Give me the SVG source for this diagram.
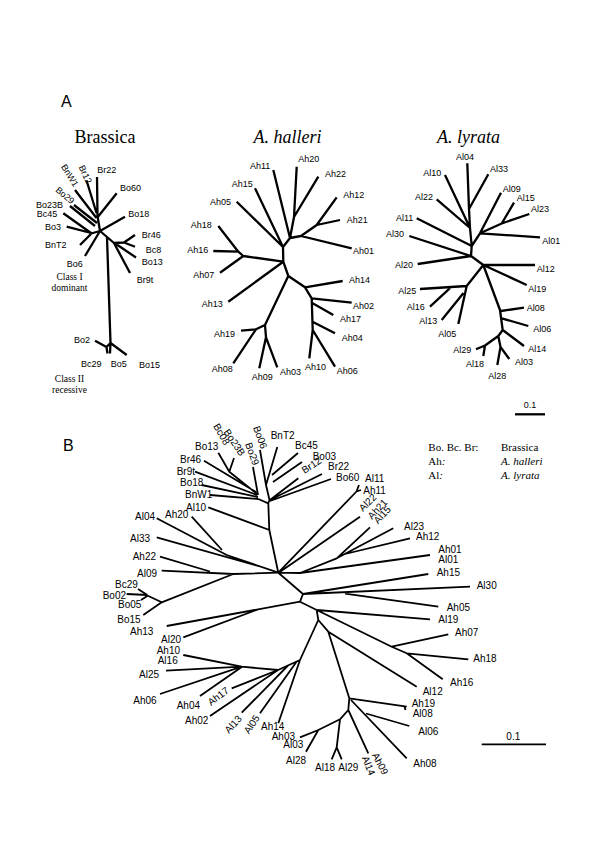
<svg xmlns="http://www.w3.org/2000/svg" width="600" height="849" viewBox="0 0 600 849">
<style>
.ta{font-family:"Liberation Sans",Arial,sans-serif;font-size:9px;fill:#000}
.tb{font-family:"Liberation Sans",Arial,sans-serif;font-size:10px;fill:#000}
.pl{font-family:"Liberation Sans",Arial,sans-serif;font-size:16px;fill:#000}
.ti{font-family:"Liberation Serif","Times New Roman",serif;font-size:18px;fill:#000}
.it{font-style:italic}
.cl{font-family:"Liberation Serif","Times New Roman",serif;font-size:9.5px;fill:#000;text-anchor:middle}
.lg{font-family:"Liberation Serif","Times New Roman",serif;font-size:11px;fill:#000}
.ea{fill:none;stroke:#000;stroke-width:2.3;stroke-linejoin:round}
.eb{fill:none;stroke:#000;stroke-width:1.8;stroke-linejoin:round}
</style>
<rect width="600" height="849" fill="#fff"/>
<text class="pl" x="61" y="107">A</text>
<text class="pl" x="63" y="450.5">B</text>
<text class="ti" x="105" y="143" text-anchor="middle">Brassica</text>
<text class="ti it" x="287.5" y="143" text-anchor="middle">A. halleri</text>
<text class="ti it" x="468.5" y="143" text-anchor="middle">A. lyrata</text>
<g id="class-labels">
<text class="cl" x="69.5" y="279.5">Class I</text>
<text class="cl" x="69.5" y="290.5">dominant</text>
<text class="cl" x="69.5" y="381.5">Class II</text>
<text class="cl" x="69.5" y="392.5">recessive</text>
</g>
<g id="connectors">
<path class="ea" d="M97,177 L97.5,216 L100,231 M86.7,181 L96.5,213 M75,190 L96.5,218 M116.7,193.3 L97.8,217 M74,205 L97,223 M70,206 L95,226 M63.3,213.3 L91,233 M66.7,226.7 L91,233 M80,245 L91,234 M91,233.5 L100,231 M85,256 L97,236 L100,231 M125,216.7 L100,231 M100,231 L107,237 L110.5,343 M107,237 L114,243 L130,273 M114,243 L124,242.5 L135,235 M124,242.5 L135,246.7 M116,244 L136,257.5 M110.5,343 L126.7,355 M110.5,343 L110,353.5 M110.5,343 L106.5,347 L95,340.7 M106.5,347 L107.5,353.5"/>
<path class="ea" d="M296.7,166.7 L294,217 L290,238 M318.3,176.7 L294,217 M273.3,170 L290,238 M336.7,197.3 L316.7,225 L301,236 L290,238 M340,220 L316.7,225 M351.7,248.3 L301,236 M290,238 L283,247 L283.3,261.7 M255,188.3 L283,247 M236.7,201.7 L283,247 M218.3,226 L238.3,251.7 L243.3,256 L283.3,261.7 M213.3,251 L238.3,251.7 M220,272.7 L243.3,256 M228.3,301.7 L283.3,261.7 M283.3,261.7 L288.3,276 L305,287.3 L342.7,281 M305,287.3 L311.7,298.3 L351.7,302.7 M312.2,303 L333.3,315 M311.7,298.3 L312.7,330 L309.3,358.3 M312.5,321.7 L335,333.3 M312.7,330 L335,366.7 M288.3,276 L265,325 L256,329.3 L241,330.7 M256,329.3 L233.3,363.3 M265,325 L266,337.3 L259.3,368.3 M266,337.3 L277.3,367.3"/>
<path class="ea" d="M467.3,163.3 L469,209 L470,228 L471.7,246 M488.3,174.3 L469,209 M445,175 L470,228 M436.7,199.3 L470,228 M501,192.7 L480,233.3 L471.7,246 M514,202.7 L501.7,223.5 L480,233.3 M529.3,214 L501.7,223.5 M540,237.3 L480,233.3 M416.7,218.3 L471.7,246 L471,256 L483.3,265 L535,265 M409.3,236 L471,256 M417.7,264 L471,256 M483.3,265 L526.7,285 M483.3,265 L466.7,286 L420,289 M430,306.7 L450,288.2 M458.3,324 L466.7,286 M441.7,320 L463.5,293 M483.3,265 L500,310 L502.7,330 L524,346 M501,311 L524,307.7 M501.8,318.3 L528.3,326 M502.7,330 L498.3,336 L485,345.5 L476,349.3 M485,345.5 L483.3,356 M498.3,336 L500.5,347 L509.3,359 M500.5,347 L497.3,365"/>
<path class="ea" d="M515,414.3 L545,414.3"/>
<path class="eb" d="M210,495 L258.3,499 M201.7,485 L258,497 M195,471.7 L257,495 M204,460.7 L256,492 M218.3,452.7 L229.3,471.7 L257,494 M234,458 L229.3,471.7 M253,467 L258,495 M258.3,499 L268.3,503.3 M260,450 L266,485 L269.5,500 M277.3,447 L266,485 M298,453 L272,475 M302,462 L273,482 M298.3,478.3 L270,500 M322,474 L270,500 M331,479 L270,501 M269.5,500 L268.3,503.3 L269.3,530 L278.3,572.7 M208.3,507.3 L269.3,530 M156.7,518.3 L226.7,555 L278.3,572.7 M191.7,516.7 L222,550 M156.7,537.3 L260,566.5 M160,556.7 L210,571.5 M161.7,570.7 L233.3,574 L278.3,572.7 M161.7,602.3 L233.3,574 M138,589 L147.3,595 M126.7,594 L147.3,595 M141,600 L147.3,596 M147.3,595.5 L161.7,602.3 M143.3,615 L161.7,602.3"/>
<path class="eb" d="M278.3,572.7 L356.5,491.5 L359,485 M356.5,491.5 L361,490 M360,516.7 L279,572.5 M370,527.3 L336.7,558.3 M393.3,528.3 L336.7,558.3 L300,573 L278.3,572.7 M410,538.3 L345,554 M430,555 L300,573 M278.3,572.7 L303,594 L300,601.7 L316.7,610 M428.3,574 L303,594 M470,586.7 L303,594 M438.3,606.7 L345,593.6 M166.7,626 L300,601.7 M183.3,637.3 L258,609.4"/>
<path class="eb" d="M316.7,610 L430,619.3 M316.7,610 L391.7,646.7 L448.3,634.3 M391.7,646.7 L406.7,653.3 L468.3,659.3 M406.7,653.3 L442.7,679.3 M316.7,610 L318.3,620 L300,660 M318.3,620 L328.3,631.7 L416.7,686.7 M328.3,631.7 L349.3,698.3 L406.7,706.7 M404.5,706.4 L405.5,710 M351,700 L406.7,758.3 M366,713.5 L409.3,726 M349.3,698.3 L348.3,710 L368.3,753.3 M348.3,710 L340,719.3 L336.7,747.3 L331.7,759.3 M336.7,747.3 L341.7,759.3 M340,719.3 L318.3,730 L300,737.3 M318.3,730 L306,751.7"/>
<path class="eb" d="M300,660 L278,670 L241.7,666.7 M296.7,661.5 L260,713.3 M300,660 L278.3,723.3 M288,665.5 L241.7,712.7 M278,670 L231.7,688.3 M278,670 L210,716 M183.3,655 L241.7,666.7 M166,670.7 L241.7,666.7 M160,694 L241.7,666.7 M200,696 L241.7,667"/>
<path class="eb" d="M481.7,744.3 L546,744.3"/>
</g>
<g id="brassica-A">
<g id="A-Br22"><text class="ta" x="97.3" y="173.3">Br22</text></g>
<g id="A-Br12"><text class="ta" transform="translate(78.5,167) rotate(65)">Br12</text></g>
<g id="A-BnW1"><text class="ta" transform="translate(60.7,166.7) rotate(58)">BnW1</text></g>
<g id="A-Bo29"><text class="ta" transform="translate(55,191) rotate(40)">Bo29</text></g>
<g id="A-Bo60"><text class="ta" x="120" y="190.5">Bo60</text></g>
<g id="A-Bo23B"><text class="ta" x="36" y="207.5">Bo23B</text></g>
<g id="A-Bc45"><text class="ta" x="36.7" y="216.5">Bc45</text></g>
<g id="A-Bo18"><text class="ta" x="128.3" y="216.5">Bo18</text></g>
<g id="A-Bo3"><text class="ta" x="45" y="230">Bo3</text></g>
<g id="A-Br46"><text class="ta" x="141.7" y="237.5">Br46</text></g>
<g id="A-BnT2"><text class="ta" x="45" y="247.5">BnT2</text></g>
<g id="A-Bc8"><text class="ta" x="145.7" y="252.5">Bc8</text></g>
<g id="A-Bo6"><text class="ta" x="66.7" y="266.5">Bo6</text></g>
<g id="A-Bo13"><text class="ta" x="141.7" y="265">Bo13</text></g>
<g id="A-Br9t"><text class="ta" x="136.7" y="283">Br9t</text></g>
<g id="A-Bo2"><text class="ta" x="74" y="342.5">Bo2</text></g>
<g id="A-Bc29"><text class="ta" x="81" y="366.5">Bc29</text></g>
<g id="A-Bo5"><text class="ta" x="110.7" y="366.5">Bo5</text></g>
<g id="A-Bo15"><text class="ta" x="139" y="368">Bo15</text></g>
</g>
<g id="halleri-A">
<g id="A-Ah20"><text class="ta" x="298.3" y="161.5">Ah20</text></g>
<g id="A-Ah11"><text class="ta" x="250" y="168.5">Ah11</text></g>
<g id="A-Ah22"><text class="ta" x="325" y="176.5">Ah22</text></g>
<g id="A-Ah15"><text class="ta" x="231.7" y="186.5">Ah15</text></g>
<g id="A-Ah12"><text class="ta" x="343.3" y="198">Ah12</text></g>
<g id="A-Ah05"><text class="ta" x="210" y="205">Ah05</text></g>
<g id="A-Ah21"><text class="ta" x="346.7" y="222.5">Ah21</text></g>
<g id="A-Ah18"><text class="ta" x="190.7" y="228">Ah18</text></g>
<g id="A-Ah16"><text class="ta" x="187.3" y="252.5">Ah16</text></g>
<g id="A-Ah01"><text class="ta" x="353" y="253.5">Ah01</text></g>
<g id="A-Ah07"><text class="ta" x="193.3" y="278.3">Ah07</text></g>
<g id="A-Ah14"><text class="ta" x="349" y="283.3">Ah14</text></g>
<g id="A-Ah13"><text class="ta" x="201.7" y="306.5">Ah13</text></g>
<g id="A-Ah02"><text class="ta" x="353" y="308.5">Ah02</text></g>
<g id="A-Ah17"><text class="ta" x="340" y="321.5">Ah17</text></g>
<g id="A-Ah19"><text class="ta" x="214" y="336.5">Ah19</text></g>
<g id="A-Ah04"><text class="ta" x="341.7" y="341">Ah04</text></g>
<g id="A-Ah08"><text class="ta" x="211.7" y="372">Ah08</text></g>
<g id="A-Ah10"><text class="ta" x="305" y="369.5">Ah10</text></g>
<g id="A-Ah06"><text class="ta" x="336.7" y="373.5">Ah06</text></g>
<g id="A-Ah03"><text class="ta" x="280" y="375">Ah03</text></g>
<g id="A-Ah09"><text class="ta" x="251.7" y="380">Ah09</text></g>
</g>
<g id="lyrata-A">
<g id="A-Al04"><text class="ta" x="456" y="160">Al04</text></g>
<g id="A-Al33"><text class="ta" x="490" y="171.5">Al33</text></g>
<g id="A-Al10"><text class="ta" x="423.3" y="176">Al10</text></g>
<g id="A-Al09"><text class="ta" x="502.7" y="191.5">Al09</text></g>
<g id="A-Al22"><text class="ta" x="415" y="200">Al22</text></g>
<g id="A-Al15"><text class="ta" x="516.7" y="200.5">Al15</text></g>
<g id="A-Al23"><text class="ta" x="531" y="211.5">Al23</text></g>
<g id="A-Al11"><text class="ta" x="396" y="220.5">Al11</text></g>
<g id="A-Al30"><text class="ta" x="386" y="236.5">Al30</text></g>
<g id="A-Al01"><text class="ta" x="542.3" y="244">Al01</text></g>
<g id="A-Al20"><text class="ta" x="395" y="268.2">Al20</text></g>
<g id="A-Al12"><text class="ta" x="536.7" y="271.5">Al12</text></g>
<g id="A-Al19"><text class="ta" x="528.3" y="291.5">Al19</text></g>
<g id="A-Al25"><text class="ta" x="398.3" y="294">Al25</text></g>
<g id="A-Al08"><text class="ta" x="526.7" y="310.5">Al08</text></g>
<g id="A-Al16"><text class="ta" x="406.7" y="310">Al16</text></g>
<g id="A-Al13"><text class="ta" x="419.3" y="324.3">Al13</text></g>
<g id="A-Al06"><text class="ta" x="533.3" y="332.3">Al06</text></g>
<g id="A-Al05"><text class="ta" x="438.3" y="336.5">Al05</text></g>
<g id="A-Al14"><text class="ta" x="528.3" y="352.3">Al14</text></g>
<g id="A-Al29"><text class="ta" x="453.3" y="353.3">Al29</text></g>
<g id="A-Al03"><text class="ta" x="515" y="365.3">Al03</text></g>
<g id="A-Al18"><text class="ta" x="466" y="366.5">Al18</text></g>
<g id="A-Al28"><text class="ta" x="488.3" y="379.3">Al28</text></g>
<g id="A-scale"><text class="ta" x="530" y="407.5" text-anchor="middle">0.1</text></g>
</g>
<g id="tree-B">
<g id="B-Bo13"><text class="tb" x="195" y="450">Bo13</text></g>
<g id="B-Bc08"><text class="tb" transform="translate(213,426) rotate(60)">Bc08</text></g>
<g id="B-Bo23B"><text class="tb" transform="translate(223.3,432) rotate(56)">Bo23B</text></g>
<g id="B-Bo29"><text class="tb" transform="translate(245,444) rotate(70)">Bo29</text></g>
<g id="B-Bo06"><text class="tb" transform="translate(253,427.5) rotate(70)">Bo06</text></g>
<g id="B-BnT2"><text class="tb" x="270.7" y="438.5">BnT2</text></g>
<g id="B-Bc45"><text class="tb" x="295" y="448.5">Bc45</text></g>
<g id="B-Bo03"><text class="tb" x="312.7" y="459.5">Bo03</text></g>
<g id="B-Br12"><text class="tb" transform="translate(304.5,474) rotate(-33)">Br12</text></g>
<g id="B-Br22"><text class="tb" x="328" y="470">Br22</text></g>
<g id="B-Bo60"><text class="tb" x="336" y="481">Bo60</text></g>
<g id="B-Br46"><text class="tb" x="180" y="463">Br46</text></g>
<g id="B-Br9t"><text class="tb" x="176.7" y="475">Br9t</text></g>
<g id="B-Bo18"><text class="tb" x="180" y="486">Bo18</text></g>
<g id="B-BnW1"><text class="tb" x="185" y="497.5">BnW1</text></g>
<g id="B-Al10"><text class="tb" x="186" y="511">Al10</text></g>
<g id="B-Al04"><text class="tb" x="135" y="520.2">Al04</text></g>
<g id="B-Ah20"><text class="tb" x="165" y="517.8">Ah20</text></g>
<g id="B-Al33"><text class="tb" x="130" y="541.8">Al33</text></g>
<g id="B-Ah22"><text class="tb" x="132.7" y="560.2">Ah22</text></g>
<g id="B-Al09"><text class="tb" x="137" y="576.8">Al09</text></g>
<g id="B-Bc29"><text class="tb" x="115" y="587.5">Bc29</text></g>
<g id="B-Bo02"><text class="tb" x="102.7" y="598.7">Bo02</text></g>
<g id="B-Bo05"><text class="tb" x="118" y="607.6">Bo05</text></g>
<g id="B-Bo15"><text class="tb" x="117.3" y="622.8">Bo15</text></g>
<g id="B-Ah13"><text class="tb" x="130" y="635.2">Ah13</text></g>
<g id="B-Al20"><text class="tb" x="161" y="642.5">Al20</text></g>
<g id="B-Ah10"><text class="tb" x="156.7" y="653.5">Ah10</text></g>
<g id="B-Al16"><text class="tb" x="157.7" y="664.2">Al16</text></g>
<g id="B-Al25"><text class="tb" x="139" y="677.5">Al25</text></g>
<g id="B-Ah06"><text class="tb" x="133.3" y="703.5">Ah06</text></g>
<g id="B-Ah04"><text class="tb" x="176.7" y="708.5">Ah04</text></g>
<g id="B-Ah02"><text class="tb" x="185" y="723.5">Ah02</text></g>
<g id="B-Ah17"><text class="tb" transform="translate(211,706) rotate(-37)">Ah17</text></g>
<g id="B-Al13"><text class="tb" transform="translate(229,734) rotate(-48)">Al13</text></g>
<g id="B-Al05"><text class="tb" transform="translate(249,734.5) rotate(-56)">Al05</text></g>
<g id="B-Ah14"><text class="tb" x="261" y="729.5">Ah14</text></g>
<g id="B-Ah03"><text class="tb" x="271.7" y="739.5">Ah03</text></g>
<g id="B-Al03"><text class="tb" x="283.3" y="748">Al03</text></g>
<g id="B-Al28"><text class="tb" x="286" y="763.5">Al28</text></g>
<g id="B-Al18"><text class="tb" x="315" y="770.5">Al18</text></g>
<g id="B-Al29"><text class="tb" x="338.3" y="770.5">Al29</text></g>
<g id="B-Al14"><text class="tb" transform="translate(361.7,757.7) rotate(68)">Al14</text></g>
<g id="B-Ah09"><text class="tb" transform="translate(371.7,755) rotate(62)">Ah09</text></g>
<g id="B-Al11"><text class="tb" x="365" y="482">Al11</text></g>
<g id="B-Ah11"><text class="tb" x="363.3" y="494">Ah11</text></g>
<g id="B-Al22"><text class="tb" transform="translate(363,512) rotate(-45)">Al22</text></g>
<g id="B-Ah21"><text class="tb" transform="translate(372,520) rotate(-47)">Ah21</text></g>
<g id="B-Al15"><text class="tb" transform="translate(378,524.5) rotate(-47)">Al15</text></g>
<g id="B-Al23"><text class="tb" x="404" y="529.5">Al23</text></g>
<g id="B-Ah12"><text class="tb" x="416" y="539.5">Ah12</text></g>
<g id="B-Ah01"><text class="tb" x="438.3" y="553">Ah01</text></g>
<g id="B-Al01"><text class="tb" x="438.3" y="562.5">Al01</text></g>
<g id="B-Ah15"><text class="tb" x="436.7" y="575.5">Ah15</text></g>
<g id="B-Al30"><text class="tb" x="476.7" y="588.5">Al30</text></g>
<g id="B-Ah05"><text class="tb" x="446.7" y="610.5">Ah05</text></g>
<g id="B-Al19"><text class="tb" x="438.3" y="622.8">Al19</text></g>
<g id="B-Ah07"><text class="tb" x="455" y="635.8">Ah07</text></g>
<g id="B-Ah18"><text class="tb" x="473.3" y="661.8">Ah18</text></g>
<g id="B-Ah16"><text class="tb" x="450" y="685.8">Ah16</text></g>
<g id="B-Al12"><text class="tb" x="422.7" y="695.2">Al12</text></g>
<g id="B-Ah19"><text class="tb" x="411.7" y="707.3">Ah19</text></g>
<g id="B-Al08"><text class="tb" x="412.7" y="717.3">Al08</text></g>
<g id="B-Al06"><text class="tb" x="418.3" y="735.2">Al06</text></g>
<g id="B-Ah08"><text class="tb" x="413.3" y="766.8">Ah08</text></g>
<g id="B-scale"><text class="tb" x="513.3" y="739.5" text-anchor="middle">0.1</text></g>
</g>
<g id="legend">
<text class="lg" x="428.3" y="451">Bo. Bc. Br:</text>
<text class="lg" x="501" y="451">Brassica</text>
<text class="lg" x="428.3" y="465">Ah<tspan class="it">:</tspan></text>
<text class="lg it" x="501" y="465">A. halleri</text>
<text class="lg" x="428.3" y="479">Al<tspan class="it">:</tspan></text>
<text class="lg it" x="501" y="479">A. lyrata</text>
</g>
</svg>
